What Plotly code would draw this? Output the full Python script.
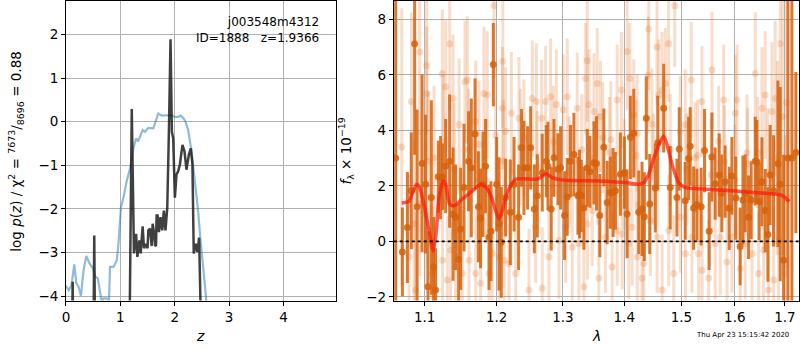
import math
import plotly.graph_objects as go

# ---------------- left panel: redshift PDF ----------------
z_chi = [0.0, 0.007, 0.05, 0.10, 0.153, 0.19, 0.23, 0.275, 0.324, 0.373, 0.434, 0.495, 0.538,
         0.587, 0.63, 0.66, 0.69, 0.75, 0.79, 0.81, 0.874, 0.934, 0.965, 1.01, 1.057, 1.117,
         1.18, 1.24, 1.289, 1.33, 1.374, 1.41, 1.454, 1.515, 1.607, 1.656, 1.698, 1.76, 1.85,
         1.94, 2.0, 2.06, 2.107, 2.156, 2.2, 2.247, 2.31, 2.37, 2.43, 2.47, 2.52, 2.57, 2.62]
v_chi = [-3.78, -3.78, -3.86, -3.75, -3.27, -3.7, -3.78, -3.99, -3.40, -3.08, -3.25, -3.36, -3.55,
         -3.59, -3.93, -4.15, -4.05, -4.05, -4.15, -3.33, -3.33, -3.18, -2.80, -1.97, -1.74, -1.36,
         -1.06, -0.61, -0.38, -0.45, -0.30, -0.19, -0.23, -0.14, -0.15, 0.04, 0.19, 0.14, 0.14,
         0.15, 0.11, 0.11, 0.14, 0.09, 0.0, -0.19, -0.68, -1.29, -2.04, -2.65, -3.40, -4.1, -4.6]

z_pz = [0.0, 0.10, 0.123, 0.14, 0.50, 0.52, 0.54, 1.16, 1.21, 1.25, 1.289, 1.313, 1.35, 1.374,
        1.41, 1.435, 1.47, 1.50, 1.515, 1.546, 1.557, 1.576, 1.594, 1.62, 1.637, 1.656, 1.667,
        1.686, 1.71, 1.74, 1.771, 1.80, 1.83, 1.863, 1.893, 1.923, 1.948, 1.972, 2.003, 2.033,
        2.064, 2.095, 2.143, 2.18, 2.216, 2.26, 2.296, 2.326, 2.35, 2.388, 2.418, 2.449, 2.473, 2.50]
v_pz = [-6.0, -6.0, -3.67, -6.0, -6.0, -2.61, -6.0, -6.0, 0.29, -3.02, -2.57, -3.1, -2.72, -3.02,
        -2.4, -2.9, -2.8, -2.9, -2.49, -2.45, -2.65, -2.85, -2.34, -2.55, -2.83, -2.85, -2.15,
        -2.15, -2.53, -2.19, -2.49, -2.04, -2.49, -1.97, -0.23, 1.89, -0.23, -0.38, -1.74, -1.21,
        -1.13, -0.98, -0.53, -0.68, -1.10, -0.76, -0.61, -0.98, -3.02, -2.80, -2.99, -2.66, -4.1, -6.0]

# ---------------- right panel: spectrum ----------------
lam_dark = [1.0622, 1.0708, 1.0773, 1.0824, 1.0868, 1.0900, 1.0966, 1.1013, 1.1045, 1.1089,
            1.1120, 1.1147, 1.1183, 1.1214, 1.1241, 1.1283, 1.1337, 1.1384, 1.1419, 1.1461,
            1.1489, 1.1536, 1.1600, 1.1638, 1.1691, 1.1738, 1.1769, 1.1803, 1.1841, 1.1890,
            1.1918, 1.1952, 1.2000, 1.2035, 1.2067, 1.2130, 1.2200, 1.2255, 1.2322, 1.2367,
            1.2402, 1.2457,
            1.2503, 1.2559, 1.2604, 1.2680, 1.2742, 1.2767, 1.2818, 1.2860, 1.2922, 1.2964,
            1.3026, 1.3068, 1.3120, 1.3174, 1.3238, 1.3264, 1.3291, 1.3334, 1.3388, 1.3432,
            1.3496, 1.3538, 1.3593, 1.3659, 1.3714, 1.3767, 1.3813, 1.3851, 1.3935, 1.4002,
            1.4048, 1.4104, 1.4162, 1.4247, 1.4304, 1.4344, 1.4378, 1.4437, 1.4535, 1.4578,
            1.4683,
            1.4800, 1.4920, 1.4962, 1.5070, 1.5132, 1.5162, 1.5224, 1.5284, 1.5363, 1.5426,
            1.5513, 1.5564, 1.5625, 1.5702, 1.5752, 1.5815, 1.5893, 1.5944, 1.6022, 1.6104,
            1.6158, 1.6203, 1.6269, 1.6320, 1.6400, 1.6433, 1.6479, 1.6533, 1.6598, 1.6653,
            1.6699, 1.6767, 1.6856, 1.6903, 1.6972, 1.7061, 1.7143, 1.7225]
f_dark = [3.0, -0.38, 0.5, 1.82, 7.12, 1.25, 2.81, 2.06, -1.63, 1.58,
          -0.92, -1.75, 2.33, 2.30, 2.33, 2.71, 2.89, 0.98, 0.87, -0.64,
          0.45, 1.94, 2.89, 2.65, 3.87, 1.25, 0.83, 2.06, 2.71, 0.15,
          0.37, 6.37, 2.06, 0.63, -0.03, 1.58, 1.05, 2.06, 0.87, 3.37,
          2.65, 2.65,
          3.37, 1.17, 1.64, 2.48, 2.89, 2.71, 1.17, 3.01, 2.60, 2.65,
          0.93, 1.60, 2.89, 3.13, 1.64, 1.70, 1.64, 1.20, 2.65, 2.51,
          2.83, 2.81, 0.93, 3.39, 1.40, 1.76, 1.76, 1.82, 2.42, 2.48,
          0.99, 3.75, 3.90, 1.05, 1.17, 0.89, 4.44, 1.35, 1.92, 3.55,
          4.80,
          1.94, 1.58, 3.33, 1.46, 2.99, 3.43, 1.20, 1.32, 1.25, 3.27,
          0.37, 3.04, 2.08, 2.39, 1.73, 2.15, 1.19, 2.36, 1.56, -0.18,
          1.49, 1.73, 0.87, 1.49, 2.89, 2.87, 1.44, 2.15, 1.11, 0.25,
          2.39, 1.82, 2.80, 2.06, -0.68, 3.0, 3.0, 3.2]
e_dark = [7.0, 1.6, 2.0, 2.1, 4.0, 3.5, 3.2, 2.5, 2.0, 3.5,
          1.8, 1.5, 1.3, 1.5, 1.2, 1.7, 2.4, 2.4, 1.9, 2.0,
          2.2, 2.3, 1.8, 2.5, 2.0, 2.0, 1.8, 1.9, 1.7, 1.9,
          1.8, 1.5, 1.7, 2.4, 2.0, 1.4, 1.9, 1.7, 1.9, 1.4,
          1.7, 1.5,
          1.5, 1.6, 1.5, 1.4, 1.3, 1.6, 1.5, 1.4, 1.3, 1.5,
          1.6, 1.4, 1.3, 1.5, 1.4, 1.6, 1.3, 1.5, 1.4, 1.3,
          1.5, 1.7, 1.5, 1.4, 1.5, 1.3, 1.6, 1.4, 1.5, 1.3,
          1.6, 1.5, 1.6, 1.5, 1.7, 1.6, 1.5, 1.8, 1.6, 1.7,
          1.6,
          1.5, 1.4, 1.5, 1.4, 1.5, 1.4, 1.5, 1.3, 1.4, 1.5,
          1.4, 1.6, 1.3, 1.5, 1.4, 1.3, 1.5, 1.4, 1.5, 1.4,
          1.6, 1.4, 1.5, 1.4, 1.6, 1.5, 1.4, 1.6, 1.5, 1.7,
          1.8, 2.0, 3.0, 3.5, 3.8, 8.0, 8.0, 2.9]

lam_light = [1.0700, 1.0795, 1.0825, 1.0860, 1.0881, 1.0934, 1.0938, 1.1014, 1.1027, 1.1030,
             1.1050, 1.1103, 1.1126, 1.1238, 1.1240, 1.1250, 1.1283, 1.1306, 1.1338, 1.1351,
             1.1384, 1.1400, 1.1420, 1.1467, 1.1512, 1.1549, 1.1583, 1.1600, 1.1606, 1.1699,
             1.1700, 1.1747, 1.1770, 1.1818, 1.1850, 1.1865, 1.1890, 1.1937, 1.1962, 1.1986,
             1.2034, 1.2083, 1.2090, 1.2100, 1.2108, 1.2131, 1.2181, 1.2215, 1.2278, 1.2328,
             1.2350, 1.2403, 1.2478, 1.2528, 1.2579, 1.2589, 1.2600, 1.2670, 1.2680, 1.2731,
             1.2783, 1.2808, 1.2850, 1.2897, 1.2938, 1.3005, 1.3042, 1.3068, 1.3100, 1.3148,
             1.3227, 1.3253, 1.3300, 1.3334, 1.3361, 1.3388, 1.3390, 1.3415, 1.3468, 1.3496,
             1.3550, 1.3560, 1.3577, 1.3604, 1.3642, 1.3686, 1.3750, 1.3775, 1.3797, 1.3880,
             1.3882, 1.3953, 1.3965, 1.4000, 1.4049, 1.4077, 1.4095, 1.4133, 1.4161, 1.4200,
             1.4219, 1.4221, 1.4304, 1.4334, 1.4409, 1.4420, 1.4449, 1.4478, 1.4500, 1.4565,
             1.4567, 1.4596, 1.4654, 1.4656, 1.4713, 1.4771, 1.4773, 1.4800, 1.4862, 1.4880,
             1.4981, 1.4983, 1.5071, 1.5073, 1.5100, 1.5181, 1.5193, 1.5254, 1.5300, 1.5316,
             1.5378, 1.5380, 1.5503, 1.5550, 1.5565, 1.5626, 1.5692, 1.5722, 1.5786, 1.5800,
             1.5850, 1.5945, 1.6000, 1.6009, 1.6043, 1.6106, 1.6204, 1.6237, 1.6250, 1.6336,
             1.6401, 1.6450, 1.6468, 1.6534, 1.6567, 1.6599, 1.6650, 1.6667, 1.6734, 1.6769,
             1.6801, 1.6850, 1.6870, 1.6904, 1.6950, 1.7006, 1.7030]
f_light = [3.4, -0.56, 5.04, 0.63, -1.75, 6.82, 1.35, 0.99, 6.34, 5.33,
           2.90, -1.16, 3.01, 6.05, -0.68, 3.60, 5.57, -1.39, 7.12, -0.32,
           5.15, 2.60, -0.92, 4.20, -1.16, 5.75, 5.81, 3.30, -0.68, 4.32,
           -1.16, 3.49, -1.51, 5.33, 2.20, 5.27, -1.16, -0.44, 8.49, 3.84,
           -0.56, 4.80, 6.49, 2.90, -0.68, 3.96, -0.80, 4.62, -1.16, 4.44,
           3.40, 3.73, -1.75, 5.15, 0.51, 5.04, 2.70, 4.44, -1.69, 5.04,
           -0.56, 5.21, 3.60, 4.92, 0.03, 4.74, 0.51, 5.21, 2.50, -0.20,
           4.80, -0.08, 3.30, -1.63, 5.87, 6.52, 0.63, 4.92, 1.11, 4.68,
           5.69, 2.60, -1.33, 4.50, 3.73, 0.15, 3.20, 3.67, -0.92, 5.09,
           0.39, 5.45, 0.27, 2.40, 6.84, -0.08, 5.87, 0.51, 4.56, 3.10,
           3.90, -0.56, -1.33, -0.80, 5.99, 7.65, 0.75, 4.23, 2.60, 7.00,
           0.15, 5.27, 5.45, -1.75, 5.69, 7.12, 0.39, 3.30, -1.16, 8.49,
           3.96, 0.87, 4.20, -0.44, 2.60, 5.81, 0.15, 3.01, 3.10, -0.44,
           5.04, -1.04, -1.33, 2.40, 6.17, -0.08, 3.61, 0.15, 5.09, 2.90,
           -0.74, 0.15, 2.20, 4.62, 5.09, -0.98, -0.08, 3.19, 2.80, -0.44,
           6.05, 3.20, -1.16, 4.80, -0.32, 5.27, 2.50, -1.75, 4.68, -1.39,
           5.15, 3.00, 0.03, 7.12, 4.50, -1.16, 5.00]
e_light = [5.0, 3.0, 3.2, 3.0, 2.8, 3.0, 2.6, 2.6, 2.5, 2.4,
           2.5, 2.4, 2.6, 2.3, 2.5, 2.4, 2.4, 2.3, 2.4, 2.4,
           2.3, 2.4, 2.3, 2.4, 2.3, 2.2, 2.3, 2.2, 2.4, 2.2,
           2.3, 2.3, 2.2, 2.4, 2.2, 2.3, 2.2, 2.3, 2.6, 2.4,
           2.3, 2.2, 2.4, 2.2, 2.2, 2.3, 2.2, 2.2, 2.1, 2.2,
           2.1, 2.1, 2.2, 2.1, 2.0, 2.1, 2.0, 2.1, 2.2, 2.0,
           2.1, 2.1, 2.0, 2.0, 2.1, 2.0, 2.0, 2.1, 2.0, 2.0,
           2.0, 2.1, 2.0, 2.1, 2.0, 2.2, 2.0, 2.0, 2.0, 2.1,
           2.0, 2.0, 2.1, 2.0, 2.0, 2.0, 2.0, 2.1, 2.0, 2.0,
           2.0, 2.1, 2.0, 2.0, 2.1, 2.0, 2.0, 2.1, 2.0, 2.0,
           2.1, 2.0, 2.1, 2.0, 2.1, 2.2, 2.0, 2.0, 2.0, 2.1,
           2.0, 2.0, 2.1, 2.0, 2.0, 2.1, 2.0, 2.0, 2.1, 2.2,
           2.0, 2.0, 2.0, 2.1, 2.0, 2.1, 2.0, 2.0, 2.0, 2.1,
           2.0, 2.0, 2.1, 2.0, 2.1, 2.0, 2.0, 2.1, 2.0, 2.0,
           2.1, 2.0, 2.0, 2.1, 2.0, 2.1, 2.0, 2.1, 2.0, 2.1,
           2.2, 2.0, 2.2, 2.2, 2.2, 2.3, 2.3, 2.4, 2.5, 2.6,
           2.8, 3.5, 3.5, 4.0, 5.0, 5.0, 6.0]

lam_model = [1.0699, 1.0795, 1.0825, 1.0894, 1.0934, 1.0990, 1.1058, 1.1116, 1.1157, 1.1193,
             1.1251, 1.1283, 1.1338, 1.1398, 1.1512, 1.1652, 1.1770, 1.1841, 1.1927, 1.1986,
             1.2034, 1.2083, 1.2131, 1.2204, 1.2278, 1.2403, 1.2579, 1.2655, 1.2731, 1.2834,
             1.3042, 1.3577, 1.4021, 1.4247, 1.4334, 1.4420, 1.4511, 1.4625, 1.4683, 1.4742,
             1.4832, 1.4951, 1.5071, 1.5316, 1.5945, 1.6599, 1.6904, 1.7006, 1.7090]
f_model = [1.38, 1.44, 1.64, 2.06, 1.94, 1.34, 0.39, -0.35, 0.39, 1.58,
           2.18, 2.06, 1.34, 1.28, 1.52, 1.82, 2.06, 1.96, 1.58, 1.11,
           0.81, 1.11, 1.58, 2.00, 2.24, 2.26, 2.24, 2.30, 2.44, 2.30,
           2.20, 2.18, 2.12, 2.06, 2.12, 2.42, 3.01, 3.61, 3.79, 3.49,
           2.77, 2.12, 1.94, 1.90, 1.82, 1.73, 1.68, 1.58, 1.44]

pz_title = "j003548m4312<br>ID=1888\u00a0\u00a0\u00a0z=1.9366"
timestamp = "Thu Apr 23 15:15:42 2020"

FONT = "DejaVu Sans"
W, H = 800, 350
DARK = "rgba(214,98,12,0.85)"
LIGHT = "rgba(228,125,55,0.26)"

fig = go.Figure()

fig.add_trace(go.Scatter(x=z_chi, y=v_chi, mode="lines", xaxis="x", yaxis="y",
                         line=dict(color="rgba(31,119,180,0.5)", width=2.2), showlegend=False))
fig.add_trace(go.Scatter(x=z_pz, y=v_pz, mode="lines", xaxis="x", yaxis="y",
                         line=dict(color="rgba(30,30,30,0.85)", width=2.5), showlegend=False))

fig.add_trace(go.Scatter(x=lam_light, y=f_light, mode="markers", xaxis="x2", yaxis="y2",
                         marker=dict(color=LIGHT, size=7, line=dict(width=0)),
                         error_y=dict(type="data", array=e_light, color=LIGHT, thickness=3, width=0),
                         showlegend=False, cliponaxis=True))
fig.add_trace(go.Scatter(x=lam_dark, y=f_dark, mode="markers", xaxis="x2", yaxis="y2",
                         marker=dict(color=DARK, size=7, line=dict(width=0)),
                         error_y=dict(type="data", array=e_dark, color=DARK, thickness=3, width=0),
                         showlegend=False, cliponaxis=True))
fig.add_trace(go.Scatter(x=lam_model, y=f_model, mode="lines", xaxis="x2", yaxis="y2",
                         line=dict(color="rgba(255,25,10,0.72)", width=3.5, shape="spline",
                                   smoothing=0.6),
                         showlegend=False))

fig.add_shape(type="line", xref="x2 domain", yref="y2", x0=0, x1=1, y0=0, y1=0,
              line=dict(color="black", width=1.6, dash="dot"), layer="above")

ax_common = dict(showgrid=True, gridcolor="#b0b0b0", gridwidth=1, showline=True,
                 linecolor="black", linewidth=1, mirror=True, ticks="outside", ticklen=4,
                 tickwidth=1, tickcolor="black", zeroline=False,
                 tickfont=dict(family=FONT, size=13.5, color="black"))

y_dom = [1 - 304 / H, 1 - 1 / H]
fig.update_layout(
    width=W, height=H, margin=dict(l=0, r=0, t=0, b=0),
    paper_bgcolor="white", plot_bgcolor="white",
    font=dict(family=FONT, color="black"),
    hovermode=False,
    xaxis=dict(domain=[62.3 / W, 333.3 / W], range=[0, 4.96], tickvals=[0, 1, 2, 3, 4],
               anchor="y", **ax_common),
    yaxis=dict(domain=y_dom, range=[-4.1, 2.77], tickvals=[-4, -3, -2, -1, 0, 1, 2],
               anchor="x", **ax_common),
    xaxis2=dict(domain=[391.7 / W, 799.3 / W], type="log",
                range=[math.log10(1.0597), math.log10(1.7297)],
                tickvals=[1.1, 1.2, 1.3, 1.4, 1.5, 1.6, 1.7],
                ticktext=["1.1", "1.2", "1.3", "1.4", "1.5", "1.6", "1.7"],
                anchor="y2", **ax_common),
    yaxis2=dict(domain=y_dom, range=[-2.13, 8.66], tickvals=[-2, 0, 2, 4, 6, 8],
                anchor="x2", **ax_common),
)

ann = [
    dict(text=pz_title, xref="paper", yref="paper", x=318.5 / W, y=1 - 13 / H,
         xanchor="right", yanchor="top", align="right", showarrow=False,
         font=dict(family=FONT, size=12, color="black")),
    dict(text="<i>z</i>", xref="paper", yref="paper", x=197.5 / W, y=1 - 340 / H,
         xanchor="center", yanchor="middle", showarrow=False, font=dict(family=FONT, size=14)),
    dict(text="<i>λ</i>", xref="paper", yref="paper", x=595.5 / W, y=1 - 340 / H,
         xanchor="center", yanchor="middle", showarrow=False, font=dict(family=FONT, size=14)),
    dict(text="log <i>p</i>(<i>z</i>) / χ<sup>2</sup> = <sup>7673</sup>/<sub>8696</sub> = 0.88",
         xref="paper", yref="paper", x=12.5 / W, y=1 - 153 / H, textangle=-90,
         xanchor="center", yanchor="middle", showarrow=False, font=dict(family=FONT, size=13.5)),
    dict(text="<i>f</i><sub>λ</sub> × 10<sup>−19</sup>", xref="paper", yref="paper",
         x=344 / W, y=1 - 153 / H, textangle=-90, xanchor="center", yanchor="middle",
         showarrow=False, font=dict(family=FONT, size=13.5)),
    dict(text=timestamp, xref="paper", yref="paper", x=742.5 / W, y=1 - 339 / H,
         xanchor="center", yanchor="middle", showarrow=False, font=dict(family=FONT, size=7)),
]
fig.update_layout(annotations=ann)

fig.write_html("out.html", config={"displayModeBar": False},
               post_script="document.body.style.margin='0';")
